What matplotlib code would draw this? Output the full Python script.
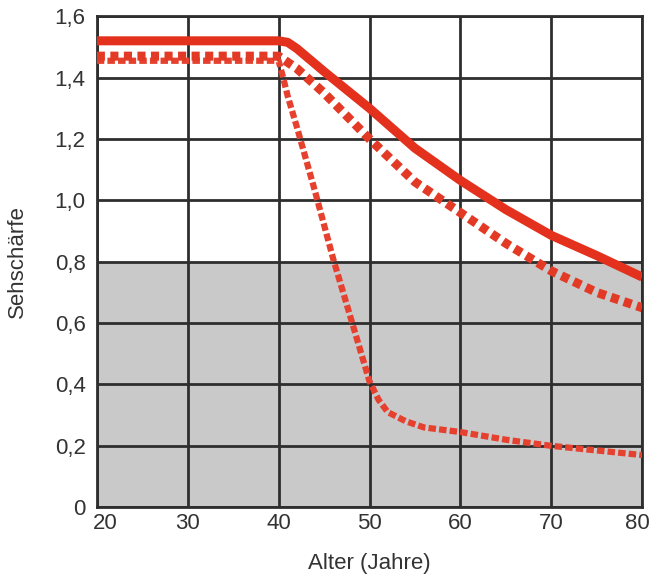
import matplotlib
matplotlib.use("Agg")
import matplotlib.pyplot as plt
from matplotlib.transforms import ScaledTranslation

# Data
age_solid = [20, 40, 41, 42, 45, 50, 55, 60, 65, 70, 75, 80]
va_solid = [1.52, 1.52, 1.515, 1.495, 1.42, 1.30, 1.17, 1.065, 0.97, 0.886, 0.82, 0.75]

age_dash = [20, 40, 42, 45, 50, 55, 60, 65, 70, 75, 80]
va_dash = [1.47, 1.47, 1.43, 1.35, 1.20, 1.06, 0.96, 0.86, 0.77, 0.70, 0.65]

age_dd = [20, 40, 40.5, 41, 42, 44, 46, 48, 50, 51, 52, 54, 56, 60, 65, 70, 75, 80]
va_dd = [1.455, 1.455, 1.40, 1.34, 1.24, 1.03, 0.81, 0.61, 0.41, 0.35, 0.31, 0.28, 0.26, 0.245, 0.22, 0.20, 0.185, 0.17]

x_ticks = [20, 30, 40, 50, 60, 70, 80]
y_ticks = [0, 0.2, 0.4, 0.6, 0.8, 1.0, 1.2, 1.4, 1.6]
y_labels = ["0", "0,2", "0,4", "0,6", "0,8", "1,0", "1,2", "1,4", "1,6"]

plt.rcParams['font.family'] = ['Liberation Sans', 'DejaVu Sans']

fig = plt.figure(figsize=(6.54, 5.81), dpi=100)
ax = fig.add_axes([0.148, 0.127, 0.834, 0.845])

ax.set_xlim(20, 80)
ax.set_ylim(0, 1.6)
ax.axhspan(0, 0.8, color='#c9c9c9', zorder=0)

for xv in x_ticks:
    ax.axvline(xv, color='#2e2e2e', lw=2, zorder=1)
for yv in y_ticks:
    ax.axhline(yv, color='#2e2e2e', lw=2, zorder=1)

ax.plot(age_dd, va_dd, color='#e5412e', lw=4.5, dashes=(1.2, 0.5), zorder=3)
ax.plot(age_dash, va_dash, color='#e23a25', lw=6.5, dashes=(0.9, 0.6), zorder=3)
ax.plot(age_solid, va_solid, color='#e3311d', lw=6.5, solid_capstyle='butt',
        solid_joinstyle='round', zorder=4)

ax.set_xticks(x_ticks)
ax.set_xticklabels([str(v) for v in x_ticks])
ax.set_yticks(y_ticks)
ax.set_yticklabels(y_labels)
ax.tick_params(axis='x', length=0, labelsize=16, pad=4, colors='#333333')
ax.tick_params(axis='y', length=0, labelsize=16, pad=8, colors='#333333')
xl = ax.get_xticklabels()
xl[0].set_transform(xl[0].get_transform() + ScaledTranslation(8/100, 0, fig.dpi_scale_trans))
xl[-1].set_transform(xl[-1].get_transform() + ScaledTranslation(-5/100, 0, fig.dpi_scale_trans))

for s in ax.spines.values():
    s.set_color('#2e2e2e')
    s.set_linewidth(2)

ax.set_xlabel("Alter (Jahre)", fontsize=16, labelpad=14, color='#333333')
ax.set_ylabel("Sehschärfe", fontsize=16, labelpad=19, color='#333333')

fig.savefig("out.png", dpi=100)
